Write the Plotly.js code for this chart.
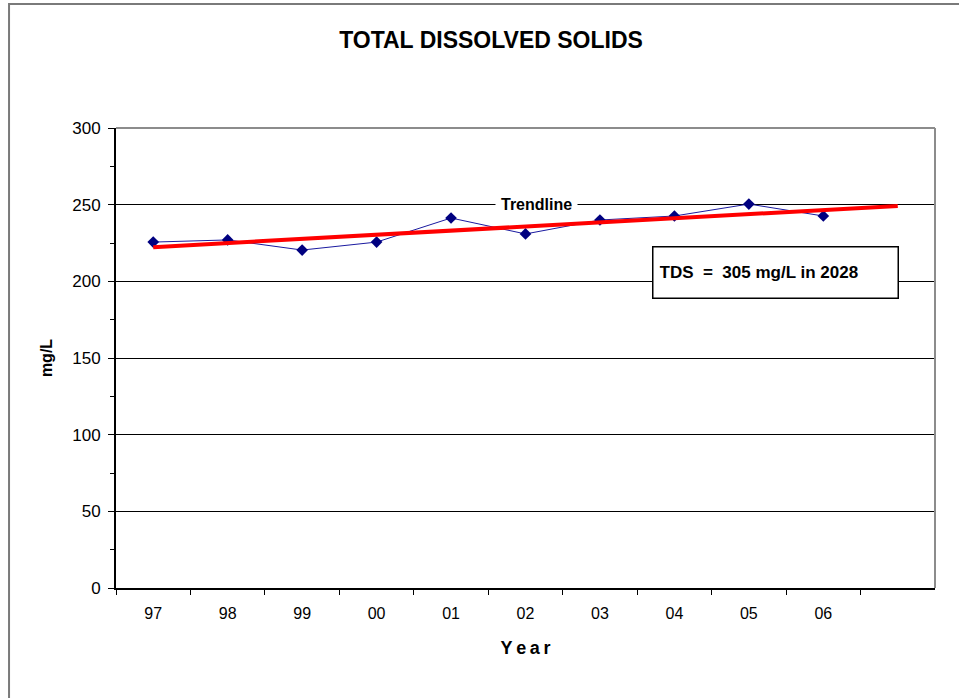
<!DOCTYPE html>
<html>
<head>
<meta charset="utf-8">
<script src="https://cdn.plot.ly/plotly-3.0.1.min.js"></script>
<style>html,body{margin:0;padding:0;background:#fff;}#chart{width:959px;height:698px;}</style>
</head>
<body>
<div id="chart"></div>
<script>
// Data
var years = ['97', '98', '99', '00', '01', '02', '03', '04', '05', '06'];
var extraSlot = ' ';
var tdsValues = [225.6, 227.0, 220.4, 225.6, 241.3, 230.9, 240.0, 242.6, 250.4, 242.6];
var trendYears = ['97', ' '];
var trendValues = [222.3, 249.2];
var yTicks = [0, 50, 100, 150, 200, 250, 300];

var allCats = years.concat([extraSlot]);

var traces = [
  {
    x: years, y: tdsValues, type: 'scatter', mode: 'lines+markers',
    line: {color: '#1a1aa0', width: 1},
    marker: {symbol: 'diamond', size: 9, color: '#000080'},
    hoverinfo: 'skip', showlegend: false
  },
  {
    x: trendYears, y: trendValues, type: 'scatter', mode: 'lines',
    line: {color: '#ff0000', width: 4},
    hoverinfo: 'skip', showlegend: false
  }
];

var layout = {
  width: 959, height: 698,
  margin: {l: 116, r: 24, t: 128, b: 110},
  paper_bgcolor: '#ffffff', plot_bgcolor: '#ffffff',
  font: {family: 'Liberation Sans, Arial, sans-serif', color: '#000'},
  title: {
    text: '<b>TOTAL DISSOLVED SOLIDS</b>',
    font: {size: 23, family: 'Liberation Sans, Arial, sans-serif', color: '#000'},
    xref: 'container', x: 0.512, xanchor: 'center',
    yref: 'container', y: 0.943, yanchor: 'middle'
  },
  xaxis: {
    type: 'category', categoryorder: 'array', categoryarray: allCats,
    range: [-0.5, 10.5], tickmode: 'array', tickvals: years, ticktext: years,
    tickson: 'boundaries', ticks: 'outside', ticklen: 5, tickcolor: '#000', tickwidth: 1,
    ticklabelstandoff: 10,
    showline: true, linecolor: '#000', linewidth: 2,
    showgrid: false, zeroline: false,
    tickfont: {size: 16, color: '#000'},
    title: {text: '<b>Y\u2009e\u2009a\u2009r</b>', font: {size: 18, color: '#000'}, standoff: 20},
    fixedrange: true
  },
  yaxis: {
    range: [0, 300], tickmode: 'array', tickvals: yTicks,
    ticks: 'outside', ticklen: 6, tickcolor: '#000', tickwidth: 1,
    minor: {dtick: 25, ticks: 'outside', ticklen: 4, tickcolor: '#000', showgrid: false},
    showline: true, linecolor: '#000', linewidth: 2,
    showgrid: true, gridcolor: '#000', gridwidth: 1,
    zeroline: false,
    tickfont: {size: 17, color: '#000'},
    ticklabelstandoff: 4,
    title: {text: '<b>mg/L</b>', font: {size: 16, color: '#000'}, standoff: 16},
    fixedrange: true
  },
  shapes: [
    {type: 'line', xref: 'paper', yref: 'paper', x0: 0, x1: 1, y0: 1, y1: 1,
     line: {color: '#8c8c8c', width: 2}, layer: 'above'},
    {type: 'line', xref: 'paper', yref: 'paper', x0: 1, x1: 1, y0: 0, y1: 1,
     line: {color: '#8c8c8c', width: 2}, layer: 'above'},
    {type: 'rect', xref: 'paper', yref: 'paper', x0: -0.1306, x1: 1.2, y0: -0.4, y1: 1.2696,
     line: {color: '#7a7a7a', width: 2}, layer: 'below'}
  ],
  annotations: [
    {text: '<b>Trendline</b>', xref: 'paper', yref: 'y', x: 0.513, y: 250,
     showarrow: false, bgcolor: '#ffffff', borderpad: 5,
     font: {size: 16, color: '#000'}, xanchor: 'center', yanchor: 'middle'},
    {text: '<b>TDS  =  305 mg/L in 2028</b>', xref: 'paper', yref: 'paper',
     x: 0.654, y: 0.685, xanchor: 'left', yanchor: 'middle', align: 'left',
     showarrow: false, bgcolor: '#ffffff', bordercolor: '#000', borderwidth: 1.5,
     borderpad: 6, width: 232, height: 38,
     font: {size: 17, color: '#000'}}
  ]
};

Plotly.newPlot('chart', traces, layout, {displayModeBar: false, staticPlot: true});
</script>
</body>
</html>
